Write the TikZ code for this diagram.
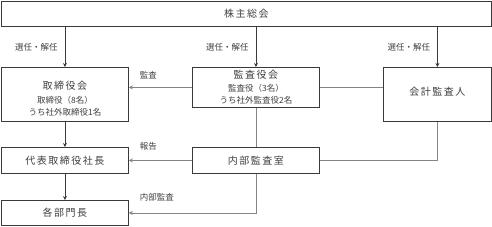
\documentclass[tikz,border=0pt]{standalone}
\usepackage{fontspec}
\setmainfont{Noto Sans CJK JP}
\newfontfamily\jpwide{Noto Sans CJK JP}[LetterSpace=15]
\usetikzlibrary{arrows.meta,positioning,calc}
\definecolor{boxline}{HTML}{3A3A3A}
\definecolor{linkgray}{HTML}{858585}
\definecolor{textgray}{HTML}{404040}

\begin{document}
\begin{tikzpicture}[
  x=1pt, y=-1pt,
  >={Stealth[length=4pt,width=4pt]},
  orgbox/.style={
    draw=boxline,
    line width=0.8pt,
    fill=white,
    text=textgray,
    inner sep=0pt,
    align=center,
    anchor=north west,
    font=\jpwide\fontsize{10}{12}\selectfont
  },
  feed/.style={->, draw=boxline, line width=0.8pt},
  link/.style={draw=linkgray, line width=0.8pt},
  tag/.style={text=textgray, inner sep=1pt, font=\fontsize{8.5}{10}\selectfont}
]
  \useasboundingbox (0,0) rectangle (492,226);

  % Shareholders' meeting
  \node[orgbox, minimum width=490, minimum height=25] (gm) at (1,1) {株主総会};

  % Row 1: board, auditors, accounting auditor
  \node[orgbox, minimum width=127, minimum height=54] (board) at (1,67) {
    \rule{0pt}{16pt}取締役会\\[2pt]
    {\rmfamily\fontsize{8.5}{15}\selectfont 取締役（8名）}\\
    {\rmfamily\fontsize{8.5}{15}\selectfont うち社外取締役1名}
  };
  \node[orgbox, minimum width=127, minimum height=40] (kansa) at (192,67) {
    監査役会\\[1pt]
    {\rmfamily\fontsize{8.5}{14}\selectfont 監査役（3名）}\\
    {\rmfamily\fontsize{8.5}{14}\selectfont うち社外監査役2名}
  };
  \node[orgbox, minimum width=108, minimum height=54] (acct) at (383,67) {\raisebox{6pt}{会計監査人}};

  % Row 2 and 3
  \node[orgbox, minimum width=127, minimum height=26] (ceo) at (1,147) {代表取締役社長};
  \node[orgbox, minimum width=127, minimum height=26] (audit) at (192,147) {内部監査室};
  \node[orgbox, minimum width=127, minimum height=25] (heads) at (1,200) {各部門長};

  % Election arrows from the meeting
  \draw[feed] (gm.south -| board.north) -- (board.north)
    node[midway, left=6pt, tag] {選任・解任};
  \draw[feed] (gm.south -| kansa.north) -- (kansa.north)
    node[midway, left=6pt, tag] {選任・解任};
  \draw[feed] (gm.south -| acct.north) -- (acct.north)
    node[midway, left=6pt, tag] {選任・解任};

  % Line of command
  \draw[feed] (board.south) -- (ceo.north);
  \draw[feed] (ceo.south) -- (heads.north);

  % Audit links
  \draw[link, ->] (kansa.west) -- (kansa.west -| board.east)
    node[pos=0.69, above=7pt, tag] {監査};
  \draw[link] (kansa.east) -- (kansa.east -| acct.west);
  \draw[link] (kansa.south) -- (audit.north);
  \draw[link] (acct.south) |- (audit.east);
  \draw[link, ->] (audit.west) -- (ceo.east)
    node[pos=0.69, above=9pt, tag] {報告};
  \draw[link, ->] (audit.south) |- (heads.east)
    node[pos=0.89, above=10pt, tag] {内部監査};

\end{tikzpicture}
\end{document}
